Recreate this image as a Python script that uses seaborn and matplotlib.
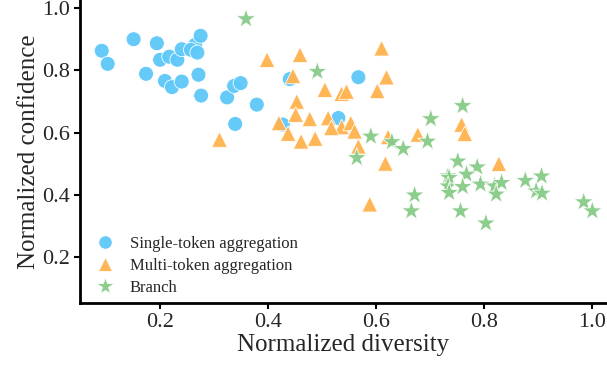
import matplotlib

matplotlib.use("Agg")
import matplotlib.pyplot as plt
import numpy as np
import pandas as pd
import seaborn as sns

# Single-token aggregation
single_x = [0.092, 0.103, 0.151, 0.194, 0.200, 0.217, 0.232, 0.240, 0.265, 0.257,
            0.269, 0.275, 0.174, 0.209, 0.222, 0.240, 0.271, 0.276, 0.324, 0.337,
            0.349, 0.379, 0.339, 0.440, 0.567, 0.427, 0.530]
single_y = [0.863, 0.821, 0.900, 0.887, 0.834, 0.844, 0.834, 0.868, 0.882, 0.866,
            0.857, 0.911, 0.789, 0.766, 0.746, 0.764, 0.786, 0.719, 0.713, 0.750,
            0.759, 0.690, 0.628, 0.772, 0.778, 0.626, 0.647]

# Multi-token aggregation
multi_x = [0.398, 0.459, 0.610, 0.446, 0.619, 0.505, 0.536, 0.545, 0.602, 0.453,
           0.451, 0.477, 0.511, 0.420, 0.437, 0.461, 0.487, 0.536, 0.553, 0.560,
           0.517, 0.567, 0.617, 0.310, 0.622, 0.588, 0.677, 0.758, 0.764, 0.827]
multi_y = [0.834, 0.850, 0.871, 0.782, 0.778, 0.738, 0.725, 0.732, 0.734, 0.700,
           0.658, 0.644, 0.647, 0.631, 0.597, 0.572, 0.581, 0.618, 0.631, 0.604,
           0.615, 0.556, 0.501, 0.578, 0.586, 0.370, 0.594, 0.626, 0.596, 0.500]

# Branch
branch_x = [0.359, 0.491, 0.590, 0.629, 0.564, 0.760, 0.701, 0.650, 0.695, 0.751,
            0.787, 0.733, 0.767, 0.735, 0.733, 0.735, 0.760, 0.793, 0.819, 0.832,
            0.822, 0.876, 0.906, 0.896, 0.907, 0.671, 0.665, 0.756, 0.803, 0.984,
            1.000]
branch_y = [0.965, 0.796, 0.588, 0.570, 0.519, 0.686, 0.644, 0.548, 0.572, 0.508,
            0.489, 0.460, 0.466, 0.455, 0.428, 0.407, 0.426, 0.434, 0.428, 0.439,
            0.402, 0.446, 0.460, 0.412, 0.405, 0.399, 0.348, 0.348, 0.309, 0.377,
            0.348]

labels = ["Single-token aggregation", "Multi-token aggregation", "Branch"]

df = pd.DataFrame({
    "diversity": single_x + multi_x + branch_x,
    "confidence": single_y + multi_y + branch_y,
    "method": [labels[0]] * len(single_x) + [labels[1]] * len(multi_x)
              + [labels[2]] * len(branch_x),
})

palette = {labels[0]: "#5EC8F8", labels[1]: "#FFB24E", labels[2]: "#87CB87"}
markers = {labels[0]: "o", labels[1]: "^", labels[2]: "*"}
sizes = {labels[0]: 115, labels[1]: 125, labels[2]: 220}

sns.set_style("ticks")
plt.rcParams["font.family"] = ["Liberation Serif", "DejaVu Serif"]

fig, ax = plt.subplots(figsize=(6.07, 3.74), dpi=100)
sns.scatterplot(data=df, x="diversity", y="confidence", hue="method", style="method",
                size="method", sizes=sizes, palette=palette, markers=markers,
                edgecolor="white", linewidth=0.6, alpha=0.95, ax=ax)

ax.set_xlim(0.052, 1.026)
ax.set_ylim(0.053, 1.026)
ax.set_xticks([0.2, 0.4, 0.6, 0.8, 1.0])
ax.set_yticks([0.2, 0.4, 0.6, 0.8, 1.0])
ax.tick_params(labelsize=16, width=1.5, length=4, color="black", pad=3)
ax.set_xlabel("Normalized diversity", fontsize=18, labelpad=2)
ax.set_ylabel("Normalized confidence", fontsize=18, labelpad=2)
for side in ["left", "bottom"]:
    ax.spines[side].set_linewidth(2)
    ax.spines[side].set_color("black")
sns.despine(ax=ax)

handles, lbls = ax.get_legend_handles_labels()
ax.legend(handles, lbls, loc="lower left", bbox_to_anchor=(-0.012, -0.025), frameon=False,
          fontsize=12, handletextpad=0.45, labelspacing=0.35, markerscale=0.9)

fig.subplots_adjust(left=0.132, right=0.999, bottom=0.19, top=1.0)
fig.savefig("out.png", dpi=100)
